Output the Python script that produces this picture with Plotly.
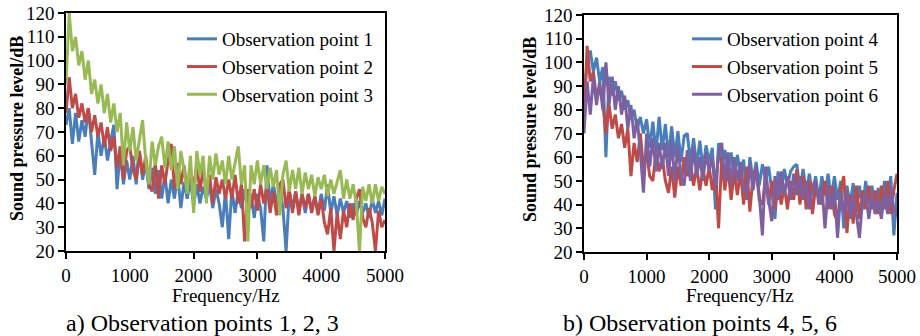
import plotly.graph_objects as go

freq = list(range(0, 5001, 50))

point1 = [73, 80, 65, 78, 66, 75, 68, 80, 66, 52, 70, 60, 68, 58, 66, 73, 46, 62, 48, 58,
          50, 60, 48, 62, 50, 57, 46, 55, 44, 54, 42, 52, 40, 50, 42, 52, 38, 49, 42, 50,
          39, 48, 40, 47, 42, 48, 38, 46, 40, 30, 45, 25, 46, 36, 45, 38, 46, 36, 44, 34,
          44, 38, 24, 56, 40, 48, 40, 47, 38, 20, 45, 38, 45, 37, 44, 36, 44, 37, 43, 36,
          44, 37, 48, 36, 43, 35, 42, 36, 41, 34, 40, 35, 41, 36, 40, 34, 42, 36, 41, 35,
          42]
point2 = [78, 93, 80, 86, 76, 82, 74, 80, 70, 77, 68, 74, 64, 72, 62, 68, 55, 64, 50, 62,
          64, 54, 50, 62, 52, 60, 48, 45, 57, 42, 56, 48, 58, 65, 46, 57, 48, 56, 45, 54,
          47, 56, 45, 55, 44, 52, 40, 51, 44, 50, 42, 50, 42, 52, 40, 48, 24, 46, 38, 46,
          37, 48, 40, 47, 36, 45, 35, 48, 50, 38, 46, 36, 45, 35, 44, 38, 44, 36, 43, 35,
          42, 32, 27, 38, 20, 36, 25, 37, 30, 40, 33, 42, 46, 34, 30, 38, 32, 20, 37, 30,
          33]
point3 = [90, 120, 104, 110, 98, 104, 92, 100, 86, 92, 82, 90, 78, 86, 74, 82, 70, 78, 56, 74,
          62, 72, 58, 66, 75, 58, 48, 66, 56, 64, 68, 55, 66, 54, 64, 46, 62, 54, 44, 60,
          36, 62, 52, 60, 40, 60, 50, 61, 52, 58, 48, 60, 50, 57, 64, 48, 56, 24, 56, 48,
          58, 48, 56, 46, 55, 47, 54, 35, 52, 58, 45, 54, 46, 55, 44, 53, 46, 52, 43, 51,
          46, 52, 43, 50, 44, 49, 54, 42, 50, 42, 48, 40, 20, 47, 41, 48, 40, 48, 41, 47,
          44]

point4 = [85, 100, 105, 96, 102, 92, 98, 60, 94, 86, 92, 84, 88, 80, 84, 76, 80, 72, 77, 70,
          76, 64, 75, 62, 77, 63, 74, 60, 73, 60, 71, 58, 69, 70, 58, 68, 56, 67, 55, 65,
          58, 64, 38, 66, 56, 63, 55, 62, 50, 61, 53, 59, 42, 60, 50, 58, 48, 57, 50, 56,
          46, 34, 54, 45, 55, 48, 54, 56, 57, 46, 55, 45, 53, 44, 52, 42, 52, 44, 53, 42,
          52, 42, 50, 30, 48, 40, 49, 38, 48, 38, 50, 40, 48, 38, 47, 38, 50, 40, 52, 27,
          45]
point5 = [75, 107, 92, 96, 85, 90, 83, 70, 82, 72, 78, 68, 74, 64, 72, 52, 66, 58, 70, 55,
          62, 52, 50, 62, 54, 60, 50, 45, 56, 43, 56, 48, 60, 52, 58, 48, 56, 46, 55, 48,
          56, 46, 54, 30, 60, 46, 56, 42, 54, 44, 54, 40, 56, 37, 52, 55, 42, 40, 52, 40,
          50, 38, 50, 40, 48, 38, 50, 42, 55, 40, 52, 38, 50, 36, 48, 44, 40, 50, 38, 48,
          36, 33, 46, 52, 28, 44, 32, 48, 34, 46, 38, 48, 38, 46, 36, 48, 38, 50, 36, 46,
          53]
point6 = [70, 92, 78, 94, 82, 92, 80, 100, 82, 94, 80, 90, 78, 86, 72, 82, 68, 76, 62, 45,
          70, 56, 68, 54, 66, 55, 66, 52, 67, 50, 65, 52, 48, 63, 50, 64, 52, 60, 50, 62,
          54, 60, 48, 62, 66, 50, 62, 48, 60, 50, 58, 46, 45, 57, 46, 56, 44, 27, 56, 42,
          33, 52, 42, 54, 44, 52, 42, 53, 44, 52, 42, 50, 38, 48, 50, 40, 48, 30, 48, 38,
          47, 26, 45, 36, 46, 34, 44, 36, 26, 42, 45, 34, 44, 36, 42, 34, 45, 36, 46, 38,
          35]

names_a = ["Observation point 1", "Observation point 2", "Observation point 3"]
names_b = ["Observation point 4", "Observation point 5", "Observation point 6"]
colors_a = ["#4A7EBB", "#BE4B48", "#98B954"]
colors_b = ["#4A7EBB", "#BE4B48", "#7D60A0"]

y_ticks = [20, 30, 40, 50, 60, 70, 80, 90, 100, 110, 120]
x_ticks = [0, 1000, 2000, 3000, 4000, 5000]

FONT = "Liberation Serif"
LW = 3

fig = go.Figure()
for ys, nm, c in zip([point1, point2, point3], names_a, colors_a):
    fig.add_trace(go.Scatter(x=freq, y=ys, name=nm, mode="lines",
                             line=dict(color=c, width=LW), xaxis="x", yaxis="y",
                             legend="legend"))
for ys, nm, c in zip([point4, point5, point6], names_b, colors_b):
    fig.add_trace(go.Scatter(x=freq, y=ys, name=nm, mode="lines",
                             line=dict(color=c, width=LW), xaxis="x2", yaxis="y2",
                             legend="legend2"))

axis_common = dict(showline=True, linecolor="black", linewidth=1.5, mirror=True,
                   ticks="outside", ticklen=6, tickcolor="black", tickwidth=1.5,
                   showgrid=False, zeroline=False, automargin=False,
                   tickfont=dict(family=FONT, size=19, color="black"))


def ann(text, x, y, size, angle=0):
    return dict(text=text, textangle=angle, xref="paper", yref="paper",
                x=x / 920, y=1 - y / 336, xanchor="center", yanchor="middle",
                showarrow=False, font=dict(family=FONT, size=size, color="black"))


fig.update_layout(
    width=920, height=336, autosize=False,
    margin=dict(l=0, r=0, t=0, b=0, autoexpand=False),
    paper_bgcolor="white", plot_bgcolor="white",
    font=dict(family=FONT, color="black"),
    xaxis=dict(domain=[66 / 920, 385 / 920], range=[0, 5000], tickvals=x_ticks, anchor="y", **axis_common),
    yaxis=dict(domain=[1 - 251 / 336, 1 - 13 / 336], range=[20, 120], tickvals=y_ticks, anchor="x", **axis_common),
    xaxis2=dict(domain=[584 / 920, 897 / 920], range=[0, 5000], tickvals=x_ticks, anchor="y2", **axis_common),
    yaxis2=dict(domain=[1 - 252 / 336, 1 - 15 / 336], range=[20, 120], tickvals=y_ticks, anchor="x2", **axis_common),
    legend=dict(x=182 / 920, y=1 - 20 / 336, xanchor="left", yanchor="top", bgcolor="rgba(0,0,0,0)",
                font=dict(family=FONT, size=19, color="black")),
    legend2=dict(x=687 / 920, y=1 - 20 / 336, xanchor="left", yanchor="top", bgcolor="rgba(0,0,0,0)",
                 font=dict(family=FONT, size=19, color="black")),
    annotations=[
        ann("<b>Sound pressure level/dB</b>", 17, 129, 18, -90),
        ann("<b>Sound pressure level/dB</b>", 530, 130, 18, -90),
        ann("Frequency/Hz", 226, 295, 19),
        ann("Frequency/Hz", 740, 295, 19),
        ann("a) Observation points 1, 2, 3", 202, 323, 24),
        ann("b) Observation points 4, 5, 6", 700, 323, 24),
    ],
)

fig.write_html("out.html", config={"displayModeBar": False},
               post_script="document.body.style.margin='0';document.body.style.overflow='hidden';")
